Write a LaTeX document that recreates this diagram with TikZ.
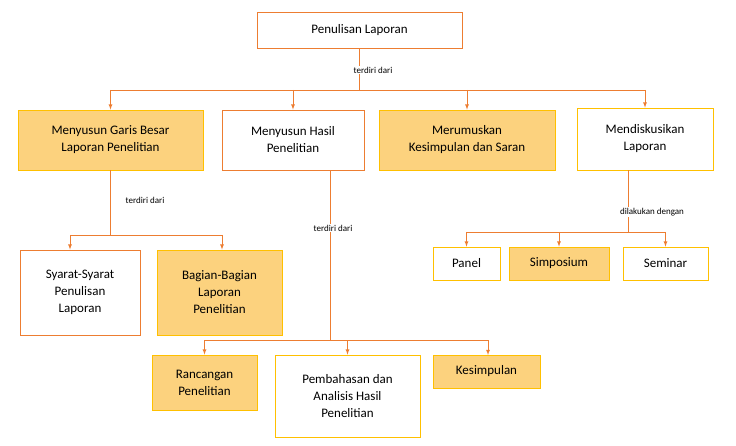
\documentclass[tikz,border=0pt]{standalone}
\usepackage{fontspec}
\setmainfont{Carlito}
\usetikzlibrary{positioning}
\definecolor{garis}{HTML}{ED7D31}
\definecolor{isian}{HTML}{FCD27E}
\definecolor{kuning}{HTML}{FFC000}
\tikzset{
  kotak/.style={draw=garis,thick,fill=white,align=center,font=\fontsize{13}{17}\selectfont,inner sep=2pt},
  isi/.style={kotak,fill=isian,draw=kuning},
  label/.style={font=\fontsize{9}{11}\selectfont,fill=white,inner sep=1pt},
  hubung/.style={draw=garis,thick},
  panah/.style={hubung,-latex}
}
\begin{document}
\begin{tikzpicture}[x=1pt,y=-1pt]
	\useasboundingbox (0,0) rectangle (736,446);

	\node[kotak,minimum width=205pt,minimum height=36pt] (atas) at (359.5,30) {Penulisan Laporan};

	\node[isi,minimum width=185pt,minimum height=60pt] (garis) at (110.5,140) {Menyusun Garis Besar\\Laporan Penelitian};
	\node[kotak,minimum width=142pt,minimum height=60pt] (hasil) at (293,140) {Menyusun Hasil\\Penelitian};
	\node[isi,minimum width=176pt,minimum height=60pt] (simpul) at (467,140) {Merumuskan\\Kesimpulan dan Saran};
	\node[kotak,draw=kuning,minimum width=136pt,minimum height=62pt] (diskusi) at (645,139) {Mendiskusikan\\Laporan};

	\node[kotak,minimum width=120pt,minimum height=85pt] (syarat) at (80,292.5) {Syarat-Syarat\\Penulisan\\Laporan};
	\node[isi,minimum width=125pt,minimum height=85pt] (bagian) at (219.5,292.5) {Bagian-Bagian\\Laporan\\Penelitian};

	\node[isi,minimum width=105pt,minimum height=55pt] (rancang) at (204.5,382.5) {Rancangan\\Penelitian};
	\node[kotak,draw=kuning,minimum width=145pt,minimum height=82pt] (bahas) at (347.5,396) {Pembahasan dan\\Analisis Hasil\\Penelitian};
	\node[isi,minimum width=107pt,minimum height=33pt] (kesimpulan) at (486.5,371.5) {Kesimpulan};

	\node[kotak,draw=kuning,minimum width=67pt,minimum height=33pt] (panel) at (466.5,263.5) {Panel};
	\node[isi,minimum width=100pt,minimum height=33pt] (simposium) at (559,263.5) {Simposium};
	\node[kotak,draw=kuning,minimum width=85pt,minimum height=33pt] (seminar) at (665.5,263.5) {Seminar};

	% cabang atas
	\coordinate (c1) at (359.5,90);
	\draw[hubung] (atas) -- (c1);
	\node[label] (l1) at (373,70) {terdiri dari};
	\draw[hubung] (garis.north |- c1) -- (diskusi.north |- c1);
	\foreach \n in {garis,hasil,simpul,diskusi}
		\draw[panah] (\n.north |- c1) -- (\n.north);

	% cabang garis besar
	\coordinate (c2) at (110.5,235);
	\draw[hubung] (garis) -- (c2);
	\node[label] (l2) at (145,200) {terdiri dari};
	\coordinate (c2a) at (70,235);
	\coordinate (c2b) at (222,235);
	\draw[hubung] (c2a) -- (c2b);
	\draw[panah] (c2a) -- (c2a |- syarat.north);
	\draw[panah] (c2b) -- (c2b |- bagian.north);

	% cabang hasil
	\coordinate (c3) at (330,340);
	\draw[hubung] (c3 |- hasil.south) -- (c3);
	\node[label] (l3) at (333,228) {terdiri dari};
	\draw[hubung] (rancang.north |- c3) -- (488,340);
	\draw[panah] (rancang.north |- c3) -- (rancang.north);
	\draw[panah] (bahas.north |- c3) -- (bahas.north);
	\draw[panah] (488,340) -- (488,355);

	% cabang diskusi
	\coordinate (c4) at (628,232);
	\draw[hubung] (c4 |- diskusi.south) -- (c4);
	\node[label] (l4) at (652,212) {dilakukan dengan};
	\draw[hubung] (panel.north |- c4) -- (seminar.north |- c4);
	\foreach \n in {panel,simposium,seminar}
		\draw[panah] (\n.north |- c4) -- (\n.north);
\end{tikzpicture}
\end{document}
